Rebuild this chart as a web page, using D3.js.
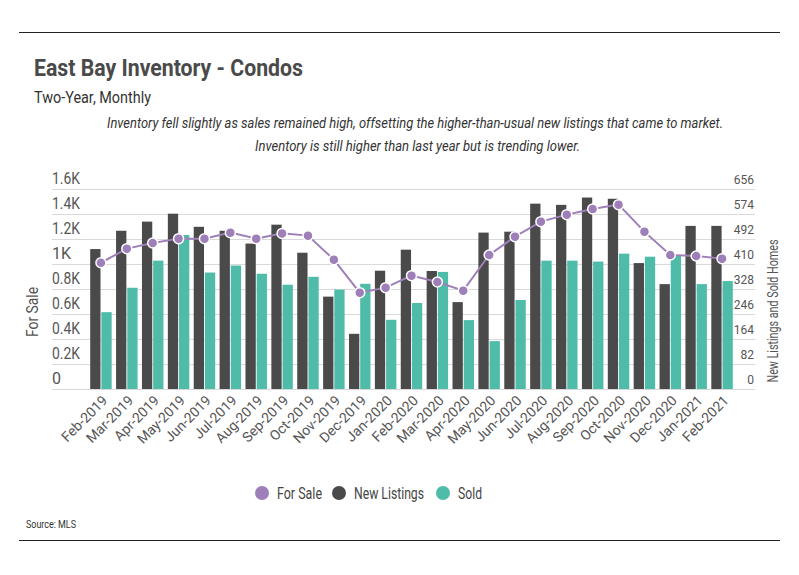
<!DOCTYPE html>
<html>
<head>
<meta charset="utf-8">
<script src="https://cdn.jsdelivr.net/npm/d3@7/dist/d3.min.js"></script>
<style>
  body { margin: 0; background: #fff; }
  svg text { font-family: "Liberation Sans Narrow", Roboto, "Open Sans", sans-serif; }
</style>
</head>
<body>
<svg id="chart" width="799" height="575"></svg>
<script>
// months on the x axis
var months = ["Feb-2019", "Mar-2019", "Apr-2019", "May-2019", "Jun-2019", "Jul-2019", "Aug-2019",
    "Sep-2019", "Oct-2019", "Nov-2019", "Dec-2019", "Jan-2020", "Feb-2020", "Mar-2020", "Apr-2020",
    "May-2020", "Jun-2020", "Jul-2020", "Aug-2020", "Sep-2020", "Oct-2020", "Nov-2020", "Dec-2020",
    "Jan-2021", "Feb-2021"];
// left axis (line)
var forSale = [1010, 1123, 1168, 1203, 1203, 1251, 1203, 1245, 1227, 1035, 771, 811, 907, 856, 787,
    1072, 1219, 1339, 1395, 1440, 1475, 1259, 1072, 1064, 1043];
// right axis (bars)
var newListings = [459, 519, 549, 575, 532, 519, 477, 539, 447, 303, 181, 388, 457, 387, 285,
    513, 516, 608, 604, 628, 624, 413, 344, 535, 535];
var sold = [252, 332, 421, 505, 382, 405, 378, 342, 368, 326, 345, 227, 282, 384, 226,
    157, 292, 421, 421, 418, 444, 434, 437, 344, 354];
var leftTicks = [0, 200, 400, 600, 800, 1000, 1200, 1400, 1600];
var leftTickLabels = ["0", "0.2K", "0.4K", "0.6K", "0.8K", "1K", "1.2K", "1.4K", "1.6K"];
var rightTicks = [0, 82, 164, 246, 328, 410, 492, 574, 656];

var purple = "#9e7fba", dark = "#4a4a4a", teal = "#4fbcaa";

var svg = d3.select("#chart");

// squeeze a text to the width it has in the picture, only when it is wider
function fitWidth(sel, w) {
    sel.each(function () {
        if (this.getComputedTextLength() > w) {
            d3.select(this).attr("textLength", w).attr("lengthAdjust", "spacingAndGlyphs");
        }
    });
    return sel;
}

// frame lines
svg.append("line").attr("x1", 19).attr("x2", 780).attr("y1", 32.5).attr("y2", 32.5)
    .attr("stroke", "#222").attr("stroke-width", 1.2);
svg.append("line").attr("x1", 19).attr("x2", 780).attr("y1", 540.5).attr("y2", 540.5)
    .attr("stroke", "#222").attr("stroke-width", 1.2);

fitWidth(svg.append("text").attr("x", 34).attr("y", 76).text("East Bay Inventory - Condos")
    .attr("font-size", 23).attr("font-weight", "bold").attr("fill", "#4a4a4a"), 269);
fitWidth(svg.append("text").attr("x", 34).attr("y", 103).text("Two-Year, Monthly")
    .attr("font-size", 16).attr("fill", "#333"), 117);
fitWidth(svg.append("text").attr("x", 107).attr("y", 128)
    .attr("font-size", 14.5).attr("font-style", "italic").attr("fill", "#333")
    .text("Inventory fell slightly as sales remained high, offsetting the higher-than-usual new listings that came to market."), 616);
fitWidth(svg.append("text").attr("x", 255).attr("y", 151)
    .attr("font-size", 14.5).attr("font-style", "italic").attr("fill", "#333")
    .text("Inventory is still higher than last year but is trending lower."), 325);

var yTop = 189, yBottom = 389;
var x = d3.scaleBand().domain(months).range([88, 735]).paddingInner(0.17).paddingOuter(0.085);
var xInner = d3.scaleBand().domain(["new", "sold"]).range([0, x.bandwidth()]).paddingInner(0.08);
var yL = d3.scaleLinear().domain([0, 1600]).range([yBottom, yTop]);
var yR = d3.scaleLinear().domain([0, 656]).range([yBottom, yTop]);

// gridlines
svg.append("g").selectAll("line").data(leftTicks).enter().append("line")
    .attr("x1", 52).attr("x2", 755)
    .attr("y1", d => Math.round(yL(d)) + 0.5).attr("y2", d => Math.round(yL(d)) + 0.5)
    .attr("stroke", "#d9d9d9").attr("stroke-width", 1);

// left tick labels
fitWidth(svg.append("g").selectAll("text").data(leftTicks).enter().append("text")
    .attr("x", 52).attr("y", d => yL(d) - 5)
    .attr("font-size", 16).attr("fill", "#555")
    .text((d, i) => leftTickLabels[i]), 28);

// right tick labels
svg.append("g").selectAll("text").data(rightTicks).enter().append("text")
    .attr("x", 754).attr("y", d => yR(d) - 5).attr("text-anchor", "end")
    .attr("font-size", 12).attr("fill", "#555")
    .text(d => d);

fitWidth(svg.append("text").attr("transform", "translate(38,312) rotate(-90)")
    .attr("text-anchor", "middle").attr("font-size", 16).attr("fill", "#555").text("For Sale"), 50);
fitWidth(svg.append("text").attr("transform", "translate(778,311) rotate(-90)")
    .attr("text-anchor", "middle").attr("font-size", 14).attr("fill", "#555").text("New Listings and Sold Homes"), 143);

// bars
svg.append("g").selectAll("rect").data(newListings).enter().append("rect")
    .attr("x", (d, i) => x(months[i]) + xInner("new"))
    .attr("width", xInner.bandwidth())
    .attr("y", d => yR(d)).attr("height", d => yBottom - yR(d))
    .attr("fill", dark);
svg.append("g").selectAll("rect").data(sold).enter().append("rect")
    .attr("x", (d, i) => x(months[i]) + xInner("sold"))
    .attr("width", xInner.bandwidth())
    .attr("y", d => yR(d)).attr("height", d => yBottom - yR(d))
    .attr("fill", teal);

// line
var line = d3.line()
    .x((d, i) => x(months[i]) + x.bandwidth() / 2)
    .y(d => yL(d));
svg.append("path").datum(forSale).attr("d", line)
    .attr("fill", "none").attr("stroke", purple).attr("stroke-width", 2);
svg.append("g").selectAll("circle").data(forSale).enter().append("circle")
    .attr("cx", (d, i) => x(months[i]) + x.bandwidth() / 2)
    .attr("cy", d => yL(d)).attr("r", 5)
    .attr("fill", purple).attr("stroke", "#fff").attr("stroke-width", 1.5);

// x labels
fitWidth(svg.append("g").selectAll("text").data(months).enter().append("text")
    .attr("transform", d => "translate(" + (x(d) + x.bandwidth() / 2 + 4) + ",398) rotate(-45)")
    .attr("text-anchor", "end").attr("dy", "0.35em")
    .attr("font-size", 14).attr("fill", "#555")
    .text(d => d), 61);

// legend
var legend = [["For Sale", purple, 262, 45], ["New Listings", dark, 339, 70], ["Sold", teal, 443, 24]];
var lg = svg.append("g").selectAll("g").data(legend).enter().append("g");
lg.append("circle").attr("cx", d => d[2]).attr("cy", 493).attr("r", 7).attr("fill", d => d[1]);
lg.append("text").attr("x", d => d[2] + 15).attr("y", 499).attr("font-size", 16)
    .attr("fill", "#444").text(d => d[0])
    .each(function (d) { fitWidth(d3.select(this), d[3]); });

fitWidth(svg.append("text").attr("x", 26).attr("y", 528).attr("font-size", 10).attr("fill", "#333").text("Source: MLS"), 50);
</script>
</body>
</html>
